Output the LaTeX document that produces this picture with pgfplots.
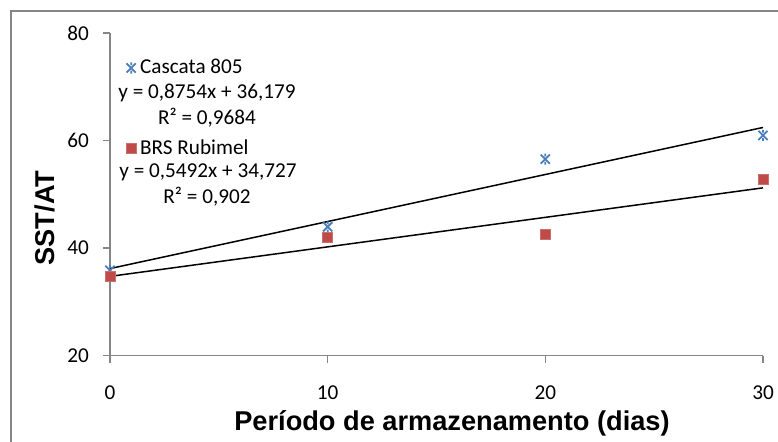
\documentclass[border=0pt]{standalone}
\usepackage{fontspec}
\setmainfont{Carlito}
\newfontfamily\arial{Liberation Sans}
\usepackage{pgfplots}
\pgfplotsset{compat=1.18}
\definecolor{axgray}{RGB}{134,134,134}
\definecolor{cblue}{RGB}{74,126,187}
\definecolor{cred}{RGB}{190,75,72}
\pgfdeclareplotmark{xstar}{%
  \pgfpathmoveto{\pgfqpoint{-\pgfplotmarksize}{-\pgfplotmarksize}}%
  \pgfpathlineto{\pgfqpoint{\pgfplotmarksize}{\pgfplotmarksize}}%
  \pgfpathmoveto{\pgfqpoint{-\pgfplotmarksize}{\pgfplotmarksize}}%
  \pgfpathlineto{\pgfqpoint{\pgfplotmarksize}{-\pgfplotmarksize}}%
  \pgfpathmoveto{\pgfqpoint{0pt}{-1.2\pgfplotmarksize}}%
  \pgfpathlineto{\pgfqpoint{0pt}{-0.6\pgfplotmarksize}}%
  \pgfpathmoveto{\pgfqpoint{0pt}{0.6\pgfplotmarksize}}%
  \pgfpathlineto{\pgfqpoint{0pt}{1.2\pgfplotmarksize}}%
  \pgfusepathqstroke}
\begin{document}
\begin{tikzpicture}[x=0.5pt,y=-0.5pt]
\useasboundingbox (0,0) rectangle (778,441);
\draw[axgray, line width=0.75pt] (11,470) -- (11,11) -- (800,11);
\begin{axis}[
  at={(55pt,-177.75pt)}, anchor=south west,
  scale only axis, width=326.5pt, height=161.2pt,
  xmin=0, xmax=30, ymin=20, ymax=80,
  axis x line*=bottom, axis y line*=left,
  axis line style={axgray, line width=0.75pt, -},
  xtick={0,10,20,30}, ytick={20,40,60,80},
  tick style={axgray, line width=0.75pt},
  tick align=outside, major tick length=3.5pt,
  ticklabel style={font=\fontsize{10.6}{12}\selectfont, text=black},
  xticklabel style={yshift=-8pt},
  yticklabel style={xshift=-3.5pt},
  /pgf/number format/assume math mode=true,
  clip=false,
  legend cell align=left,
  legend style={at={(0.015,0.945)}, anchor=north west, draw=none, fill=none,
    row sep=27.5pt, font=\fontsize{10.6}{12}\selectfont,
    legend image code/.code={\draw[mark repeat=2,mark phase=2,#1] plot coordinates {(0cm,0cm) (0.17cm,0cm) (0.42cm,0cm)};}},
]
\addplot[only marks, mark=xstar, mark size=2.3pt, cblue, line width=0.9pt]
  coordinates {(0,35.85) (10,43.95) (20,56.55) (30,60.95)};
\addlegendentry{Cascata 805}
\addplot[only marks, mark=square*, mark size=2.5pt, cred, draw=cred!80]
  coordinates {(0,34.65) (10,41.95) (20,42.45) (30,52.85)};
\addlegendentry{BRS Rubimel}
\addplot[black, line width=0.75pt, forget plot] coordinates {(0,36.179) (30,62.441)};
\addplot[black, line width=0.75pt, forget plot] coordinates {(0,34.727) (30,51.203)};
\end{axis}
\begin{scope}[every node/.style={font=\fontsize{10.6}{12}\selectfont}]
\node at (207,93) {y = 0,8754x + 36,179};
\node at (207,118) {R² = 0,9684};
\node at (208,172) {y = 0,5492x + 34,727};
\node at (207,197) {R² = 0,902};
\end{scope}
\node[font=\arial\bfseries\fontsize{13.6}{16}\selectfont] at (452,423) {Período de armazenamento (dias)};
\node[rotate=90, font=\arial\bfseries\fontsize{13.6}{16}\selectfont] at (45,218) {SST/AT};
\end{tikzpicture}
\end{document}
